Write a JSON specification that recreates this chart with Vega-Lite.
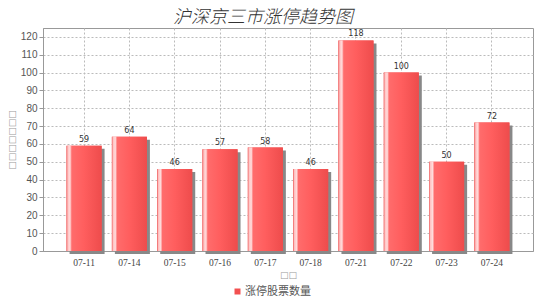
{
  "$schema": "https://vega.github.io/schema/vega-lite/v6.json",
  "width": 490,
  "height": 223,
  "autosize": "none",
  "padding": {"left": 43, "top": 28, "right": 7, "bottom": 53},
  "background": "white",
  "title": {
    "text": "沪深京三市涨停趋势图",
    "font": "Noto Sans CJK SC",
    "fontSize": 18,
    "fontStyle": "italic",
    "fontWeight": 300,
    "color": "#333333",
    "anchor": "middle",
    "dx": -25,
    "dy": 4,
    "offset": 5
  },
  "data": {
    "values": [
      {"date": "07-11", "count": 59, "series": "涨停股票数量"},
      {"date": "07-14", "count": 64, "series": "涨停股票数量"},
      {"date": "07-15", "count": 46, "series": "涨停股票数量"},
      {"date": "07-16", "count": 57, "series": "涨停股票数量"},
      {"date": "07-17", "count": 58, "series": "涨停股票数量"},
      {"date": "07-18", "count": 46, "series": "涨停股票数量"},
      {"date": "07-21", "count": 118, "series": "涨停股票数量"},
      {"date": "07-22", "count": 100, "series": "涨停股票数量"},
      {"date": "07-23", "count": 50, "series": "涨停股票数量"},
      {"date": "07-24", "count": 72, "series": "涨停股票数量"}
    ]
  },
  "encoding": {
    "x": {
      "field": "date",
      "type": "ordinal",
      "scale": {"paddingInner": 0.227, "paddingOuter": 0.52},
      "axis": {
        "title": "□□",
        "titleFont": "DejaVu Sans",
        "titleFontSize": 9,
        "titleColor": "#999999",
        "titleFontWeight": "normal",
        "titlePadding": 4,
        "labelFont": "Liberation Serif",
        "labelFontSize": 9.5,
        "labelColor": "#444444",
        "labelAngle": 0,
        "labelPadding": 6,
        "ticks": false,
        "grid": true,
        "gridDash": [2, 2],
        "gridColor": "#bbbbbb",
        "bandPosition": 0.5,
        "domainColor": "#999999"
      }
    },
    "y": {
      "field": "count",
      "type": "quantitative",
      "scale": {"domain": [0, 125], "nice": false},
      "axis": {
        "title": "□□□□□□□",
        "titleFont": "DejaVu Sans",
        "titleFontSize": 9,
        "titleColor": "#999999",
        "titleFontWeight": "normal",
        "titlePadding": 4,
        "values": [0, 10, 20, 30, 40, 50, 60, 70, 80, 90, 100, 110, 120],
        "labelFont": "Liberation Sans",
        "labelFontSize": 10,
        "labelColor": "#555555",
        "labelPadding": 2,
        "tickColor": "#999999",
        "tickSize": 4,
        "grid": true,
        "gridDash": [2, 2],
        "gridColor": "#bbbbbb",
        "domainColor": "#999999"
      }
    }
  },
  "layer": [
    {
      "mark": {"type": "bar", "color": "#888888", "xOffset": 3, "yOffset": 3}
    },
    {
      "mark": {"type": "bar"},
      "encoding": {
        "color": {
          "field": "series",
          "type": "nominal",
          "scale": {"range": ["#f25050"]},
          "legend": {
            "orient": "none",
            "legendX": 189,
            "legendY": 258,
            "title": null,
            "labelFont": "Noto Sans CJK SC",
            "labelFontSize": 11,
            "labelColor": "#555555",
            "symbolType": "square",
            "symbolSize": 36,
            "symbolStrokeWidth": 0,
            "labelOffset": 2
          }
        }
      }
    },
    {
      "mark": {
        "type": "bar",
        "fill": {
          "gradient": "linear",
          "x1": 0, "y1": 0, "x2": 1, "y2": 0,
          "stops": [
            {"offset": 0, "color": "#f06a6a"},
            {"offset": 0.04, "color": "#ffc4c4"},
            {"offset": 0.1, "color": "#ffdcdc"},
            {"offset": 0.15, "color": "#ff6c6c"},
            {"offset": 0.5, "color": "#ff5e5e"},
            {"offset": 1, "color": "#ee4c4c"}
          ]
        }
      }
    },
    {
      "mark": {
        "type": "text",
        "baseline": "bottom",
        "dy": -2,
        "font": "DejaVu Sans",
        "fontSize": 8,
        "color": "#333333"
      },
      "encoding": {"text": {"field": "count", "type": "quantitative"}}
    }
  ],
  "config": {
    "view": {"stroke": "#999999", "strokeWidth": 1}
  }
}
